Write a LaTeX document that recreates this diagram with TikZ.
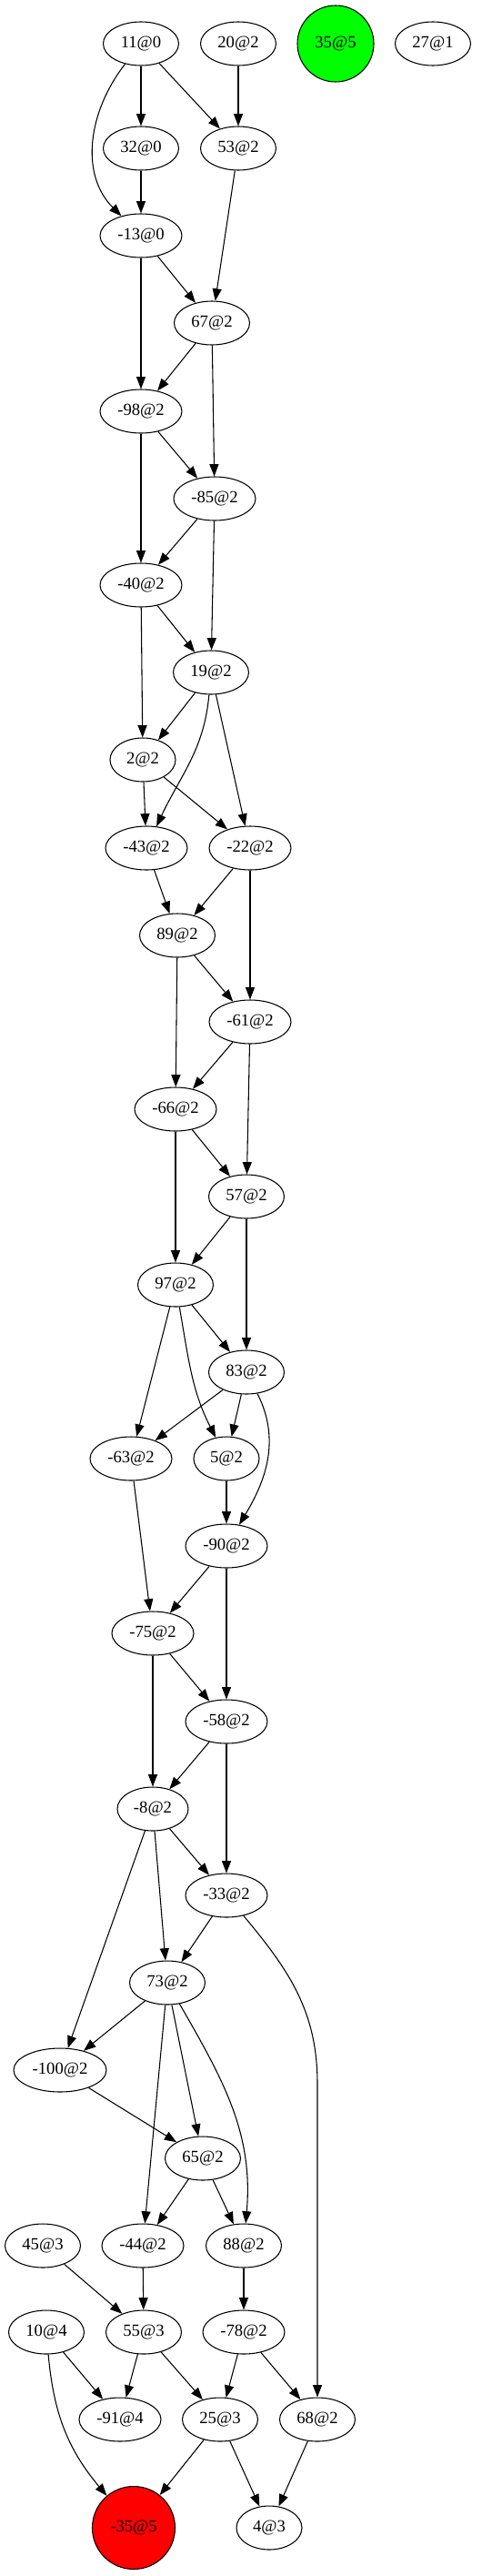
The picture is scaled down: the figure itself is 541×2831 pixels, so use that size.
\documentclass[tikz,border=0pt]{standalone}
\usepackage{fontspec}
\setmainfont{Liberation Serif}
\usetikzlibrary{shapes,arrows.meta,positioning,calc,shapes.geometric}
\definecolor{startgreen}{RGB}{0,255,0}
\definecolor{goalred}{RGB}{255,0,0}

\begin{document}
\begin{tikzpicture}[
    x=0.75pt, y=0.75pt,
    vertex/.style={ellipse, draw=black, line width=0.8pt, minimum width=62.25pt, minimum height=36pt, inner sep=0pt, text centered, font=\fontsize{14}{16}\selectfont},
    vwide/.style={vertex, minimum width=67.5pt},
    vnarrow/.style={vertex, minimum width=54pt},
    vcirc/.style={circle, draw=black, line width=0.8pt, inner sep=0pt, text centered, font=\fontsize{14}{16}\selectfont},
    link/.style={-{Triangle[length=10pt,width=7.5pt]}, line width=0.8pt}
]
\useasboundingbox (0,0) rectangle (541,-2831);

% top row
\node[vertex] (n11) at (155,-48) {11@0};
\node[vertex] (n20) at (262,-48) {20@2};
\node[vcirc, fill=startgreen, minimum size=63pt] (n35) at (369,-48) {35@5};
\node[vertex] (n27) at (476,-48) {27@1};

\node[vertex] (n32) at (155,-163) {32@0};
\node[vertex] (n53) at (262,-163) {53@2};
\node[vwide] (nm13) at (155,-259) {-13@0};
\node[vertex] (n67) at (233,-355) {67@2};
\node[vwide] (nm98) at (155,-452) {-98@2};
\node[vwide] (nm85) at (236,-548) {-85@2};
\node[vwide] (nm40) at (155,-643) {-40@2};
\node[vertex] (n19) at (232,-739) {19@2};
\node[vnarrow] (n2) at (157,-835) {2@2};
\node[vwide] (nm43) at (161,-932) {-43@2};
\node[vwide] (nm22) at (275,-932) {-22@2};
\node[vertex] (n89) at (195,-1028) {89@2};
\node[vwide] (nm61) at (275,-1123) {-61@2};
\node[vwide] (nm66) at (193,-1219) {-66@2};
\node[vertex] (n57) at (271,-1315) {57@2};
\node[vertex] (n97) at (193,-1412) {97@2};
\node[vertex] (n83) at (271,-1508) {83@2};
\node[vwide] (nm63) at (144,-1603) {-63@2};
\node[vnarrow] (n5) at (249,-1603) {5@2};
\node[vwide] (nm90) at (249,-1699) {-90@2};
\node[vwide] (nm75) at (168,-1795) {-75@2};
\node[vwide] (nm58) at (249,-1892) {-58@2};
\node[vertex, minimum width=58.5pt] (nm8) at (168,-1988) {-8@2};
\node[vwide] (nm33) at (249,-2083) {-33@2};
\node[vertex] (n73) at (184,-2179) {73@2};
\node[vertex, minimum width=76.5pt] (nm100) at (66,-2275) {-100@2};
\node[vertex] (n65) at (223,-2372) {65@2};

% bottom part
\node[vertex] (n45) at (47,-2468) {45@3};
\node[vwide] (nm44) at (157,-2468) {-44@2};
\node[vertex] (n88) at (268,-2468) {88@2};
\node[vertex] (n10) at (51,-2563) {10@4};
\node[vertex] (n55) at (158,-2563) {55@3};
\node[vwide] (nm78) at (268,-2563) {-78@2};
\node[vwide] (nm91) at (132,-2659) {-91@4};
\node[vertex] (n25) at (242,-2659) {25@3};
\node[vertex] (n68) at (349,-2659) {68@2};
\node[vcirc, fill=goalred, minimum size=68.25pt] (nm35) at (147,-2778) {-35@5};
\node[vnarrow] (n4) at (296,-2778) {4@3};

% edges
\draw[link] (n11) -- (n32);
\draw[link] (n11) -- (n53);
\draw[link] (n11) to[out=232, in=135] (nm13);
\draw[link] (n20) -- (n53);
\draw[link] (n32) -- (nm13);
\draw[link] (n53) -- (n67);
\draw[link] (nm13) -- (n67);
\draw[link] (nm13) -- (nm98);
\draw[link] (n67) -- (nm98);
\draw[link] (n67) -- (nm85);
\draw[link] (nm98) -- (nm85);
\draw[link] (nm98) -- (nm40);
\draw[link] (nm85) -- (nm40);
\draw[link] (nm85) -- (n19);
\draw[link] (nm40) -- (n19);
\draw[link] (nm40) -- (n2);
\draw[link] (n19) -- (n2);
\draw[link] (n19) to[out=265, in=65] (nm43);
\draw[link] (n19) -- (nm22);
\draw[link] (n2) -- (nm43);
\draw[link] (n2) -- (nm22);
\draw[link] (nm43) -- (n89);
\draw[link] (nm22) -- (n89);
\draw[link] (nm22) -- (nm61);
\draw[link] (n89) -- (nm61);
\draw[link] (n89) -- (nm66);
\draw[link] (nm61) -- (nm66);
\draw[link] (nm61) -- (n57);
\draw[link] (nm66) -- (n57);
\draw[link] (nm66) -- (n97);
\draw[link] (n57) -- (n97);
\draw[link] (n57) -- (n83);
\draw[link] (n97) -- (n83);
\draw[link] (n97) -- (nm63);
\draw[link] (n97) to[out=280, in=117] (n5);
\draw[link] (n83) -- (nm63);
\draw[link] (n83) -- (n5);
\draw[link] (n83) to[out=-63, in=59] (nm90);
\draw[link] (n5) -- (nm90);
\draw[link] (nm63) -- (nm75);
\draw[link] (nm90) -- (nm75);
\draw[link] (nm90) -- (nm58);
\draw[link] (nm75) -- (nm58);
\draw[link] (nm75) -- (nm8);
\draw[link] (nm58) -- (nm8);
\draw[link] (nm58) -- (nm33);
\draw[link] (nm8) -- (nm33);
\draw[link] (nm8) -- (n73);
\draw[link] (nm8) -- (nm100);
\draw[link] (nm33) -- (n73);
\draw[link] (nm33) to[out=-50, in=90] ($(n68)+(0,369)$) -- (n68);
\draw[link] (n73) -- (nm100);
\draw[link] (n73) -- (n65);
\draw[link] (n73) -- (nm44);
\draw[link] (n73) to[out=-60, in=85] (n88);
\draw[link] (nm100) -- (n65);
\draw[link] (n65) -- (nm44);
\draw[link] (n65) -- (n88);
\draw[link] (n45) -- (n55);
\draw[link] (nm44) -- (n55);
\draw[link] (n88) -- (nm78);
\draw[link] (n10) -- (nm91);
\draw[link] (n10) to[out=-85, in=130] (nm35);
\draw[link] (n55) -- (nm91);
\draw[link] (n55) -- (n25);
\draw[link] (nm78) -- (n25);
\draw[link] (nm78) -- (n68);
\draw[link] (n25) -- (nm35);
\draw[link] (n25) -- (n4);
\draw[link] (n68) -- (n4);

\end{tikzpicture}
\end{document}
